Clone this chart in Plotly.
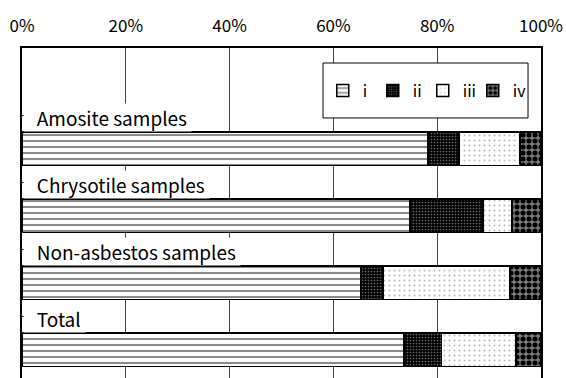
import plotly.graph_objects as go

categories = ["Amosite samples", "Chrysotile samples", "Non-asbestos samples", "Total"]
series_names = ["i", "ii", "iii", "iv"]
val_i = [78.2, 74.8, 65.3, 73.6]
val_ii = [6.0, 14.0, 4.3, 7.2]
val_iii = [11.8, 5.6, 24.4, 14.4]
val_iv = [4.0, 5.6, 6.0, 4.8]
tick_vals = [0, 20, 40, 60, 80, 100]
tick_text = ["0%", "20%", "40%", "60%", "80%", "100%"]

FONT = "Noto Sans CJK JP"
ypos = [1, 2, 3, 4]

patterns = [
    dict(shape="-", bgcolor="white", fgcolor="#8a8a8a", size=6, solidity=0.35, fillmode="replace"),
    dict(shape=".", bgcolor="black", fgcolor="#6a6a6a", size=3, solidity=0.25, fillmode="replace"),
    dict(shape=".", bgcolor="white", fgcolor="#b8b8b8", size=5, solidity=0.12, fillmode="replace"),
    dict(shape=".", bgcolor="#7a7a7a", fgcolor="black", size=6, solidity=0.55, fillmode="replace"),
]

fig = go.Figure()
for name, vals, pat in zip(series_names, [val_i, val_ii, val_iii, val_iv], patterns):
    fig.add_trace(go.Bar(
        y=ypos, x=vals, name=name, orientation="h", width=0.5,
        marker=dict(color="white", pattern=pat, line=dict(color="black", width=1.5)),
    ))

# invisible spacer entry so the last legend label is not clipped
fig.add_trace(go.Bar(
    y=[ypos[0]], x=[0], name="\u00a0", orientation="h", width=0.5, hoverinfo="skip",
    marker=dict(color="rgba(0,0,0,0)", line=dict(width=0)),
))

for cat, yp in zip(categories, ypos):
    fig.add_annotation(
        x=0, y=yp - 0.25, xref="x", yref="y", xanchor="left", yanchor="bottom",
        text="\u00a0\u00a0\u00a0" + cat + "\u00a0", showarrow=False,
        font=dict(family=FONT, size=19, color="black"),
        bgcolor="white", borderpad=0, xshift=1, yshift=0,
    )

# legend frame
fig.add_shape(type="rect", xref="paper", yref="paper",
              x0=0.580, x1=0.975, y0=0.788, y1=0.9545,
              line=dict(color="black", width=1), fillcolor="white", layer="above")

fig.update_layout(
    width=566, height=378,
    margin=dict(l=22, r=25, t=48, b=0, autoexpand=False),
    paper_bgcolor="white", plot_bgcolor="white",
    barmode="stack", bargap=0.5,
    showlegend=True,
    legend=dict(
        orientation="h", x=0.5795, y=0.871, xanchor="left", yanchor="middle",
        borderwidth=0, bgcolor="rgba(0,0,0,0)",
        font=dict(family=FONT, size=16, color="black"),
        itemwidth=30, traceorder="normal",
        entrywidth=5, entrywidthmode="pixels",
    ),
    font=dict(family=FONT, size=17, color="black"),
)
fig.update_xaxes(
    side="top", range=[0, 100], tickvals=tick_vals, ticktext=tick_text,
    showgrid=True, gridcolor="#444444", gridwidth=1,
    showline=True, linecolor="black", linewidth=2, mirror=False,
    ticks="", ticklabelstandoff=7, zeroline=False, automargin=False,
    tickfont=dict(family=FONT, size=17, color="black"),
    fixedrange=True,
)
fig.update_yaxes(
    range=[4.42, -0.5], showgrid=False, zeroline=False, automargin=False,
    tickvals=[0.5, 1.5, 2.5, 3.5], ticks="inside", ticklen=4, tickcolor="black",
    showticklabels=False,
    showline=True, linecolor="black", linewidth=2, mirror=True,
    fixedrange=True,
)

fig.write_html("out.html", config={"displayModeBar": False},
               post_script="document.body.style.margin='0';")
